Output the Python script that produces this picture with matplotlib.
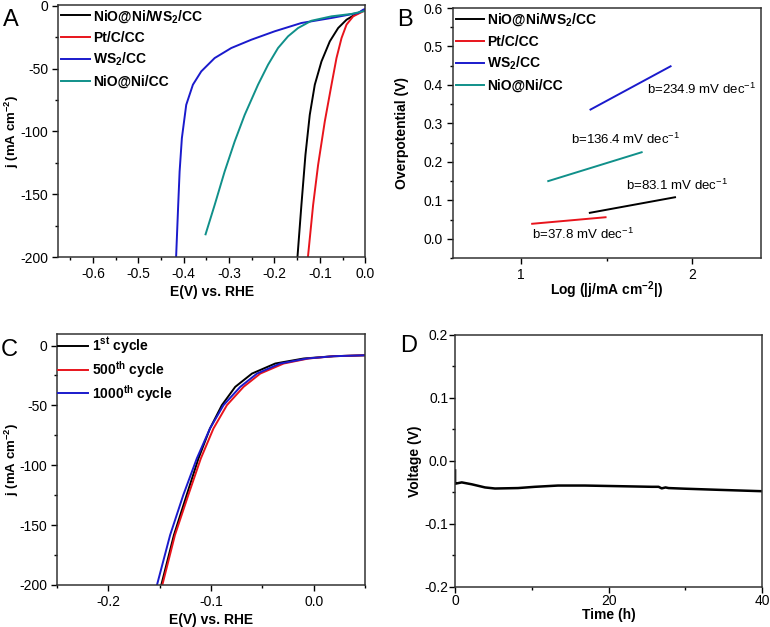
import matplotlib
matplotlib.use("Agg")
import matplotlib.pyplot as plt
from matplotlib.ticker import MultipleLocator

plt.rcParams['font.family'] = ['Liberation Sans', 'DejaVu Sans']
plt.rcParams['axes.unicode_minus'] = False
plt.rcParams['mathtext.default'] = 'regular'

# ---------------- Panel A data ----------------
a_ni_ws2_E = [-0.1493, -0.1406, -0.1317, -0.1222, -0.1111, -0.0964, -0.0780, -0.0596, -0.0412,
              -0.0228, -0.0044, 0.0]
a_ni_ws2_j = [-200, -158.6, -118.7, -86.9, -62.9, -44.4, -28.4, -17.8, -11.2, -7.2, -4.0, -3.6]
a_ptc_E = [-0.1262, -0.1148, -0.1038, -0.0891, -0.0743, -0.0633, -0.0522, -0.0412, -0.0265,
           -0.0044, 0.0]
a_ptc_j = [-200, -158.6, -126.7, -92.2, -62.9, -41.7, -25.8, -15.1, -8.5, -4.5, -4.0]
a_ws2_E = [-0.4167, -0.4121, -0.409, -0.404, -0.3944, -0.3797, -0.3613, -0.3318, -0.2951,
           -0.2509, -0.1994, -0.1406, -0.0743, -0.0155, -0.0044, 0.0]
a_ws2_j = [-200, -158.6, -132, -105.4, -78.9, -62.9, -52.3, -41.7, -33.7,
           -27.1, -20.4, -13.8, -9.8, -5.8, -3.2, -2.6]
a_nini_E = [-0.3518, -0.3318, -0.3098, -0.2877, -0.2656, -0.2362, -0.2141, -0.1921, -0.17,
            -0.1479, -0.1185, -0.0743, -0.0302, -0.0044, 0.0]
a_nini_j = [-181.9, -158.6, -132, -108.1, -86.9, -62.9, -47, -33.7, -24.4,
            -17.8, -12, -8.5, -6.6, -4.5, -4.2]

# ---------------- Panel B data ----------------
b_ni_ws2_x = [1.401, 1.899]
b_ni_ws2_y = [0.0675, 0.108]
b_ptc_x = [1.064, 1.493]
b_ptc_y = [0.039, 0.056]
b_ws2_x = [1.405, 1.873]
b_ws2_y = [0.336, 0.4485]
b_nini_x = [1.158, 1.704]
b_nini_y = [0.150, 0.225]
b_texts = ["b=234.9 mV dec$^{-1}$", "b=136.4 mV dec$^{-1}$",
           "b=83.1 mV dec$^{-1}$", "b=37.8 mV dec$^{-1}$"]
b_text_x = [1.737, 1.289, 1.614, 1.064]
b_text_y = [0.388, 0.258, 0.1385, 0.011]

# ---------------- Panel C data ----------------
c_j = [-200, -158.3, -124.9, -94.3, -69.3, -49.8, -34.5, -23.4, -15, -10.8, -8.9, -8.1]
c_1st_E = [-0.1484, -0.1361, -0.1237, -0.1122, -0.101, -0.0894, -0.0764, -0.0601, -0.0374,
           -0.0097, 0.0195, 0.0504]
c_500_E = [-0.1474, -0.1351, -0.1221, -0.1099, -0.0976, -0.0845, -0.0683, -0.052, -0.0292,
           -0.0049, 0.0195, 0.0504]
c_1000_E = [-0.1526, -0.1398, -0.127, -0.1138, -0.101, -0.0878, -0.0715, -0.0552, -0.0325,
            -0.0065, 0.0195, 0.0504]

# ---------------- Panel D data ----------------
d_t = [0.0, 0.0, 0.05, 0.87, 2.17, 3.9, 5.2, 8.2, 10.4, 13.4, 16.9, 21.3, 25.6, 26.5, 26.9,
       27.4, 27.8, 29.9, 34.3, 40.0]
d_v = [-0.015, -0.036, -0.036, -0.034, -0.037, -0.042, -0.0437, -0.043, -0.041, -0.039,
       -0.039, -0.040, -0.041, -0.041, -0.0435, -0.042, -0.043, -0.044, -0.0458, -0.048]

fig = plt.figure(figsize=(7.7, 6.27), dpi=100)

TICK_FS = 10
LAB_FS = 10
BLACK, RED, BLUE, TEAL = 'black', '#e8141c', '#1a1acc', '#10908a'


def style(ax, xmaj, xmin, ymaj, ymin, pad=3):
    ax.xaxis.set_major_locator(MultipleLocator(xmaj))
    ax.xaxis.set_minor_locator(MultipleLocator(xmin))
    ax.yaxis.set_major_locator(MultipleLocator(ymaj))
    ax.yaxis.set_minor_locator(MultipleLocator(ymin))
    ax.tick_params(which='major', direction='out', length=4, width=1, labelsize=TICK_FS, pad=pad)
    ax.tick_params(which='minor', direction='out', length=2.5, width=1)
    for s in ax.spines.values():
        s.set_linewidth(1.1)
        s.set_color('#333333')


# Panel A
axA = fig.add_axes([0.0753, 0.590, 0.399, 0.402])
axA.plot(a_ni_ws2_E, a_ni_ws2_j, color=BLACK, lw=1.4, label='NiO@Ni/WS$_2$/CC')
axA.plot(a_ptc_E, a_ptc_j, color=RED, lw=1.4, label='Pt/C/CC')
axA.plot(a_ws2_E, a_ws2_j, color=BLUE, lw=1.4, label='WS$_2$/CC')
axA.plot(a_nini_E, a_nini_j, color=TEAL, lw=1.4, label='NiO@Ni/CC')
axA.set_xlim(-0.677, 0.0)
axA.set_ylim(-200, 0.5)
style(axA, 0.1, 0.05, 50, 25)
axA.set_xticks([-0.6, -0.5, -0.4, -0.3, -0.2, -0.1, 0.0])
axA.set_xticklabels(['-0.6', '-0.5', '-0.4', '-0.3', '-0.2', '-0.1', '0.0'])
axA.set_xlabel('E(V) vs. RHE', fontsize=LAB_FS, fontweight='bold', labelpad=3)
axA.set_ylabel('j (mA cm$^{-2}$)', fontsize=9.5, fontweight='bold')
axA.yaxis.set_label_coords(-0.1205, 0.5)
axA.legend(loc='upper left', frameon=False, prop={'weight': 'bold', 'size': 10},
           borderaxespad=0.0, borderpad=0.2, handlelength=2.1, handletextpad=0.25,
           labelspacing=0.45)

# Panel B
axB = fig.add_axes([0.588, 0.5885, 0.400, 0.3987])
axB.plot(b_ni_ws2_x, b_ni_ws2_y, color=BLACK, lw=1.4, label='NiO@Ni/WS$_2$/CC')
axB.plot(b_ptc_x, b_ptc_y, color=RED, lw=1.4, label='Pt/C/CC')
axB.plot(b_ws2_x, b_ws2_y, color=BLUE, lw=1.4, label='WS$_2$/CC')
axB.plot(b_nini_x, b_nini_y, color=TEAL, lw=1.4, label='NiO@Ni/CC')
for t, x, y in zip(b_texts, b_text_x, b_text_y):
    axB.text(x, y, t, fontsize=9.5, ha='left', va='center')
axB.set_xlim(0.6, 2.4)
axB.set_ylim(-0.05, 0.6)
style(axB, 1, 0.5, 0.1, 0.05)
axB.set_yticks([0.0, 0.1, 0.2, 0.3, 0.4, 0.5, 0.6])
axB.set_yticklabels(['0.0', '0.1', '0.2', '0.3', '0.4', '0.5', '0.6'])
axB.set_xlabel('Log (|j/mA cm$^{-2}$|)', fontsize=LAB_FS, fontweight='bold', labelpad=-2)
axB.set_ylabel('Overpotential (V)', fontsize=LAB_FS, fontweight='bold')
axB.yaxis.set_label_coords(-0.143, 0.5)
axB.legend(loc='upper left', frameon=False, prop={'weight': 'bold', 'size': 10},
           borderaxespad=0.0, borderpad=0.25, handlelength=2.0, handletextpad=0.25,
           labelspacing=0.45)

# Panel C
axC = fig.add_axes([0.074, 0.067, 0.400, 0.400])
axC.plot(c_1st_E, c_j, color=BLACK, lw=1.4, label='1$^{st}$ cycle')
axC.plot(c_500_E, c_j, color=RED, lw=1.4, label='500$^{th}$ cycle')
axC.plot(c_1000_E, c_j, color=BLUE, lw=1.4, label='1000$^{th}$ cycle')
axC.set_xlim(-0.25, 0.05)
axC.set_ylim(-200, 9.5)
style(axC, 0.1, 0.05, 50, 25)
axC.set_xticks([-0.2, -0.1, 0.0])
axC.set_xticklabels(['-0.2', '-0.1', '0.0'])
axC.set_xlabel('E(V) vs. RHE', fontsize=LAB_FS, fontweight='bold', labelpad=3)
axC.set_ylabel('j (mA cm$^{-2}$)', fontsize=9.5, fontweight='bold')
axC.yaxis.set_label_coords(-0.117, 0.5)
axC.legend(loc='upper left', frameon=False, prop={'weight': 'bold', 'size': 10},
           borderaxespad=0.0, borderpad=0.1, handlelength=2.1, handletextpad=0.3,
           labelspacing=0.2)

# Panel D
axD = fig.add_axes([0.591, 0.0638, 0.399, 0.402])
axD.plot(d_t, d_v, color=BLACK, lw=1.8)
axD.set_xlim(0, 40)
axD.set_ylim(-0.2, 0.2)
style(axD, 20, 10, 0.1, 0.05, pad=1)
axD.set_yticks([-0.2, -0.1, 0.0, 0.1, 0.2])
axD.set_yticklabels(['-0.2', '-0.1', '0.0', '0.1', '0.2'])
axD.set_xlabel('Time (h)', fontsize=LAB_FS, fontweight='bold', labelpad=0)
axD.set_ylabel('Voltage (V)', fontsize=LAB_FS, fontweight='bold')
axD.yaxis.set_label_coords(-0.107, 0.5)

# Panel letters
for letter, x, y in [('A', 3, 20), ('B', 397, 20), ('C', 1, 350), ('D', 400, 346)]:
    fig.text(x / 770, 1 - y / 627, letter, fontsize=17, ha='left', va='center')

fig.savefig('out.png', dpi=100)
